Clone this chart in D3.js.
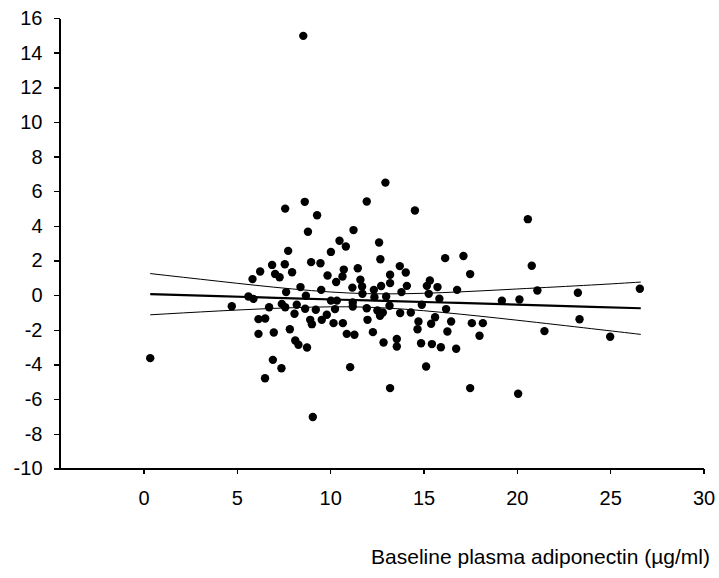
<!DOCTYPE html>
<html lang="en">
<head>
  <meta charset="UTF-8" />
  <title>Baseline plasma adiponectin scatter</title>
  <style>
    body { margin: 0; padding: 0; background: #fff; }
    svg { display: block; font-family: "Liberation Sans", Arial, sans-serif; }
    .axis path, .axis line { stroke: #000; stroke-width: 1.4; shape-rendering: crispEdges; }
    .axis text { font-size: 20px; fill: #000; }
  </style>
  <script src="https://d3js.org/d3.v7.min.js"></script>
</head>
<body>
<svg id="chart" width="719" height="578"></svg>
<script>
// scatter points
const adiponectin = [
  0.36, 4.73, 8.56, 9.07, 7.59, 8.64, 9.30, 8.81, 7.75, 10.04,
  8.98, 9.48, 7.57, 6.89, 6.25, 7.96, 7.05, 7.29, 5.84, 9.86,
  8.41, 9.52, 7.64, 5.62, 8.70, 5.89, 10.04, 6.73, 7.41, 7.59,
  8.21, 8.09, 8.66, 9.23, 6.16, 6.52, 8.93, 9.02, 9.55, 9.82,
  10.18, 6.16, 6.98, 7.84, 8.13, 8.30, 8.76, 6.93, 7.39, 6.51,
  12.96, 11.96, 14.54, 11.25, 10.50, 10.84, 12.62, 12.69, 16.16, 10.73,
  11.48, 13.73, 14.05, 10.66, 10.32, 11.62, 13.21, 13.21, 11.71, 11.19,
  12.73, 12.34, 14.11, 13.82, 15.34, 15.18, 15.75, 11.73, 12.37, 13.00,
  15.28, 15.85, 10.36, 11.21, 11.21, 11.96, 13.18, 12.53, 12.82, 12.67,
  14.91, 13.75, 14.32, 16.21, 10.26, 10.68, 12.00, 12.29, 10.89, 11.30,
  12.86, 13.57, 13.57, 14.73, 14.68, 15.41, 15.62, 16.28, 14.87, 15.45,
  15.93, 11.07, 15.14, 13.21, 20.59, 17.14, 17.50, 20.80, 16.80, 21.10,
  23.27, 19.20, 20.14, 16.48, 17.59, 18.18, 18.00, 21.48, 23.36, 16.75,
  17.50, 26.59, 25.00, 20.07
];
const change = [
  -3.63, -0.64, 14.97, -7.03, 5.00, 5.39, 4.62, 3.66, 2.56, 2.50,
  1.91, 1.85, 1.79, 1.75, 1.37, 1.33, 1.23, 1.04, 0.93, 1.14,
  0.47, 0.31, 0.18, -0.07, -0.03, -0.21, -0.31, -0.69, -0.50, -0.69,
  -0.55, -1.07, -0.78, -0.84, -1.38, -1.34, -1.42, -1.67, -1.42, -1.13,
  -1.61, -2.23, -2.15, -1.96, -2.61, -2.86, -3.02, -3.73, -4.21, -4.79,
  6.50, 5.41, 4.89, 3.76, 3.14, 2.81, 3.04, 2.08, 2.14, 1.48,
  1.56, 1.68, 1.31, 1.08, 0.76, 0.89, 1.18, 0.70, 0.50, 0.44,
  0.53, 0.31, 0.54, 0.18, 0.85, 0.54, 0.47, 0.08, -0.11, -0.07,
  0.08, -0.20, -0.31, -0.42, -0.65, -0.75, -0.61, -0.88, -1.00, -1.19,
  -0.55, -1.03, -1.00, -0.80, -0.80, -1.61, -1.42, -2.13, -2.23, -2.28,
  -2.73, -2.53, -2.96, -1.52, -1.96, -1.65, -1.27, -2.09, -2.77, -2.82,
  -3.00, -4.15, -4.11, -5.36, 4.39, 2.26, 1.22, 1.70, 0.31, 0.27,
  0.14, -0.32, -0.25, -1.52, -1.61, -1.61, -2.34, -2.07, -1.39, -3.09,
  -5.36, 0.37, -2.40, -5.69
];

// regression line and its confidence band
const fitX     = [0.36, 4, 8, 12, 16, 20, 24, 26.64];
const fitY     = [0.06, -0.05, -0.18, -0.30, -0.42, -0.54, -0.67, -0.75];
const upperY   = [1.25, 0.81, 0.36, 0.09, 0.15, 0.36, 0.59, 0.76];
const lowerY   = [-1.13, -0.91, -0.72, -0.69, -0.99, -1.44, -1.93, -2.26];

const xTicks = [0, 5, 10, 15, 20, 25, 30];
const yTicks = d3.range(-10, 17, 2);
const xLabel = "Baseline plasma adiponectin (\u00b5g/ml)";

const svg = d3.select("#chart");

const x = d3.scaleLinear().domain([-4.5, 30]).range([59.5, 703.5]);
const y = d3.scaleLinear().domain([-10, 16]).range([468.5, 18]);

// plain hyphen for negatives, like the original
const plain = d => String(d);

// axes
svg.append("g")
  .attr("class", "axis")
  .attr("transform", "translate(0,468.5)")
  .call(d3.axisBottom(x).tickValues(xTicks).tickFormat(plain)
    .tickSize(5).tickSizeOuter(0).tickPadding(17));

svg.append("g")
  .attr("class", "axis")
  .attr("transform", "translate(59.5,0)")
  .call(d3.axisLeft(y).tickValues(yTicks).tickFormat(plain)
    .tickSize(6).tickSizeOuter(0).tickPadding(11));

// band + fit
const pts = fitX.map((v, i) => ({x: v, fit: fitY[i], up: upperY[i], lo: lowerY[i]}));
const lineOf = key => d3.line().curve(d3.curveNatural).x(d => x(d.x)).y(d => y(d[key]));

svg.append("path").datum(pts).attr("d", lineOf("up"))
  .attr("fill", "none").attr("stroke", "#000").attr("stroke-width", 1);
svg.append("path").datum(pts).attr("d", lineOf("lo"))
  .attr("fill", "none").attr("stroke", "#000").attr("stroke-width", 1);
svg.append("path").datum(pts).attr("d", lineOf("fit"))
  .attr("fill", "none").attr("stroke", "#000").attr("stroke-width", 2.2);

// points
svg.append("g").selectAll("circle")
  .data(adiponectin.map((v, i) => [v, change[i]]))
  .join("circle")
  .attr("cx", d => x(d[0]))
  .attr("cy", d => y(d[1]))
  .attr("r", 4.2)
  .attr("fill", "#000");

svg.append("text")
  .attr("x", 710)
  .attr("y", 564)
  .attr("text-anchor", "end")
  .style("font-size", "21px")
  .text(xLabel);
</script>
</body>
</html>
